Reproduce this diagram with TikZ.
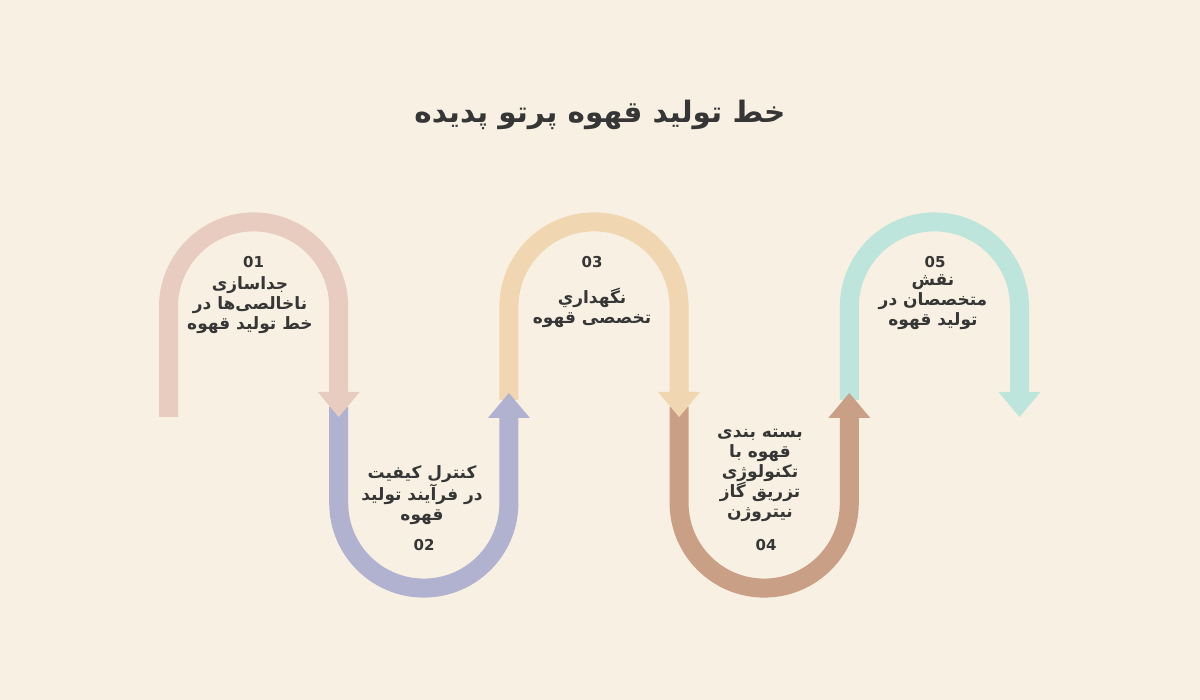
\documentclass[tikz,border=0pt]{standalone}
\usepackage{fontspec}
\TeXXeTstate=1
\newfontfamily\arabicfont[Script=Arabic]{DejaVu Sans}
\setmainfont{DejaVu Sans}
\definecolor{bgc}{HTML}{F8F1E3}
\definecolor{pinkc}{HTML}{E8CCC0}
\definecolor{purpc}{HTML}{B1B1D0}
\definecolor{orac}{HTML}{F0D6B1}
\definecolor{brownc}{HTML}{C9A086}
\definecolor{tealc}{HTML}{BEE5DC}
\definecolor{txtc}{HTML}{363636}
\tikzset{
  band/.style={line width=19pt, line cap=butt},
  lbl/.style={text=txtc, align=center, font=\arabicfont\bfseries\fontsize{17}{20}\selectfont, inner sep=0pt},
  num/.style={text=txtc, font=\bfseries\fontsize{15}{18}\selectfont, inner sep=0pt},
}
\begin{document}
\begin{tikzpicture}[x=1pt,y=1pt]
\fill[bgc] (0,0) rectangle (1200,700);
\useasboundingbox (0,0) rectangle (1200,700);
\node[text=txtc, font=\arabicfont\bfseries\fontsize{29.5}{32}\selectfont] (title) at (600,585) {\beginR خط تولید قهوه پرتو پدیده\endR};
% bands
\draw[band, pinkc] (168.5,283) -- (168.5,393) arc[start angle=180, end angle=0, radius=85.1] -- (338.7,308);
\draw[band, purpc] (338.7,293) -- (338.7,197) arc[start angle=180, end angle=360, radius=85.1] -- (508.9,282);
\draw[band, orac] (508.9,300) -- (508.9,393) arc[start angle=180, end angle=0, radius=85.1] -- (679.1,308);
\draw[band, brownc] (679.1,293) -- (679.1,197) arc[start angle=180, end angle=360, radius=85.1] -- (849.3,282);
\draw[band, tealc] (849.3,300) -- (849.3,393) arc[start angle=180, end angle=0, radius=85.1] -- (1019.5,308);
% arrowheads
\fill[pinkc] (317.7,308) -- (359.7,308) -- (338.7,283) -- cycle;
\fill[purpc] (487.9,282) -- (529.9,282) -- (508.9,307) -- cycle;
\fill[orac] (658.1,308) -- (700.1,308) -- (679.1,283) -- cycle;
\fill[brownc] (828.3,282) -- (870.3,282) -- (849.3,307) -- cycle;
\fill[tealc] (998.5,308) -- (1040.5,308) -- (1019.5,283) -- cycle;
% labels
\node[num] (n1) at (253.6,438) {01};
\node[lbl] (l1) at (250,395) {\beginR جداسازی\endR\\\beginR ناخالصی‌ها در\endR\\\beginR خط تولید قهوه\endR};
\node[lbl] (l2) at (422,205) {\beginR کنترل کیفیت\endR\\\beginR در فرآیند تولید\endR\\\beginR قهوه\endR};
\node[num] (n2) at (424,155) {02};
\node[num] (n3) at (592,438) {03};
\node[lbl] (l3) at (592,392.5) {\beginR نگهداري\endR\\\beginR تخصصی قهوه\endR};
\node[lbl] (l4) at (760,225) {\beginR بسته بندی\endR\\\beginR قهوه با\endR\\\beginR تکنولوژی\endR\\\beginR تزریق گاز\endR\\\beginR نیتروژن\endR};
\node[num] (n4) at (766,155) {04};
\node[num] (n5) at (935,438) {05};
\node[lbl] (l5) at (933,398) {\beginR نقش\endR\\\beginR متخصصان در\endR\\\beginR تولید قهوه\endR};
\end{tikzpicture}
\end{document}
